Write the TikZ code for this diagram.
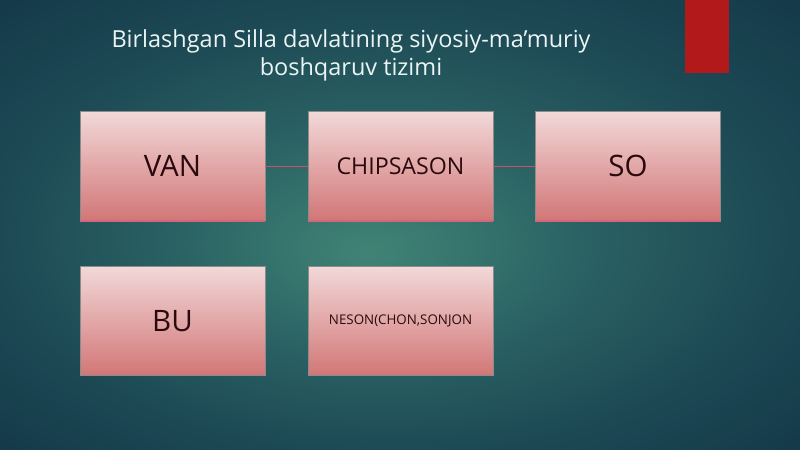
\documentclass[tikz,border=0pt]{standalone}
\usepackage{fontspec}
\setmainfont{Open Sans}
\usetikzlibrary{positioning}
\definecolor{bginner}{HTML}{408476}
\definecolor{bgmid}{HTML}{2A6163}
\definecolor{bgedge}{HTML}{1C4854}
\definecolor{bgouter}{HTML}{143948}
\definecolor{boxtop}{HTML}{F2D8D8}
\definecolor{boxbottom}{HTML}{D27676}
\definecolor{linkred}{HTML}{C8506A}
\definecolor{bandred}{HTML}{B2191A}
\definecolor{labeltext}{HTML}{2A0A0E}
\pgfdeclareradialshading{bgglow}{\pgfpoint{-2bp}{-3bp}}{color(0bp)=(bginner); color(13bp)=(bgmid); color(25bp)=(bgedge); color(36bp)=(bgouter)}
\tikzstyle{pinkbox} = [minimum width=4.625cm,minimum height=2.725cm,inner sep=0pt,top color=boxtop,bottom color=boxbottom,draw=black!45,line width=0.3pt,text=labeltext]

\begin{document}
\begin{tikzpicture}
\tikzstyle{link} = [linkred,line width=0.5pt]
\useasboundingbox (0,0) rectangle (20,11.225);
\shade[shading=bgglow] (0,0) rectangle (20,11.225);
\fill[bandred] (17.125,9.4) rectangle (18.225,11.225);

\node[text=white!92!teal,align=center,font=\fontsize{16.7}{20}\selectfont] (title) at (8.775,9.83) {Birlashgan Silla davlatining siyosiy-ma’muriy\\boshqaruv tizimi};

\node[pinkbox,font=\fontsize{21}{24}\selectfont] (van) at (4.3125,7.07) {VAN};
\node[pinkbox,font=\fontsize{16.5}{18}\selectfont] (chipsason) at (10.0125,7.07) {CHIPSASON};
\node[pinkbox,font=\fontsize{21}{24}\selectfont] (so) at (15.7,7.07) {SO};
\node[pinkbox,font=\fontsize{21}{24}\selectfont] (bu) at (4.3125,3.2) {BU};
\node[pinkbox,font=\fontsize{9.5}{11}\selectfont] (neson) at (10.0125,3.2) {NESON(CHON,SONJON};

\draw[linkred!80!pink,line width=1.2pt] (van.south west) -- (van.south east);
\draw[linkred!80!pink,line width=1.2pt] (chipsason.south west) -- (chipsason.south east);
\draw[linkred!80!pink,line width=1.2pt] (so.south west) -- (so.south east);

\draw[link] (van) -- (chipsason);
\draw[link] (chipsason) -- (so);
\end{tikzpicture}
\end{document}
